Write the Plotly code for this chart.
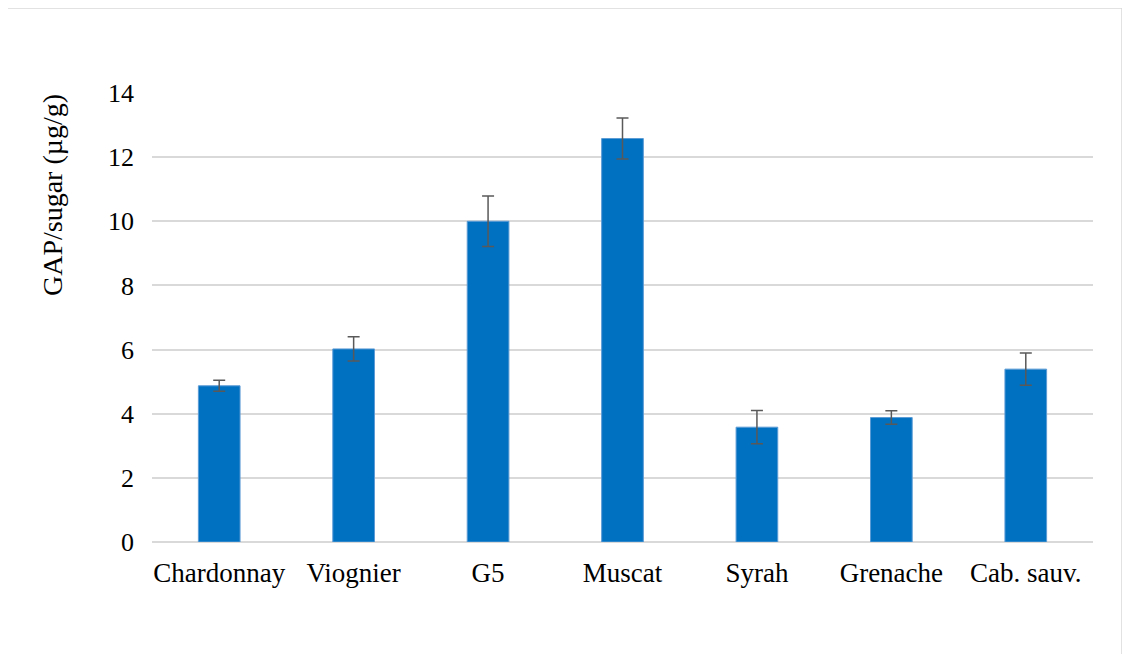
import plotly.graph_objects as go

categories = ["Chardonnay", "Viognier", "G5", "Muscat", "Syrah", "Grenache", "Cab. sauv."]
values = [4.87, 6.02, 10.0, 12.58, 3.58, 3.88, 5.39]
errors = [0.17, 0.38, 0.79, 0.64, 0.52, 0.21, 0.5]
tick_vals = [0, 2, 4, 6, 8, 10, 12, 14]
y_title = "GAP/sugar (µg/g)"

W, H = 1130, 654
OFF = 8  # page body offset
L, R, T, B = 152 - OFF, 37 + OFF, 93 - OFF, 112 + OFF
FONT = "'Liberation Serif', 'Times New Roman', Times, serif"

fig = go.Figure()
fig.add_trace(go.Bar(
    x=categories, y=values,
    marker=dict(color="#0070C0", line=dict(color="#5B9BD5", width=1)),
    error_y=dict(type="data", array=errors, visible=True, color="#595959", thickness=1.5, width=6),
))

pw, ph = W - L - R, H - T - B
x0 = (7 - 152) / pw
x1 = (1122 - 152) / pw
y1 = (542 - 8) / ph
y0 = (542 - 670) / ph
fig.add_shape(type="rect", xref="paper", yref="paper", x0=x0, x1=x1, y0=y0, y1=y1,
              line=dict(color="#D9D9D9", width=1.5), fillcolor="rgba(0,0,0,0)", layer="below")

fig.add_annotation(text=y_title, textangle=-90, xref="paper", yref="paper",
                   x=(52 - 152) / pw, y=(542 - 195) / ph, xanchor="center", yanchor="middle",
                   showarrow=False, font=dict(family=FONT, size=28, color="#000000"))

fig.update_layout(
    width=W, height=H,
    margin=dict(l=L, r=R, t=T, b=B),
    paper_bgcolor="white", plot_bgcolor="white",
    bargap=0.69,
    showlegend=False,
    font=dict(family=FONT, color="#000000", size=26),
)
fig.update_xaxes(showgrid=False, showline=False, ticks="", tickfont=dict(size=27), ticklabelstandoff=12)
fig.update_yaxes(range=[0, 14], tickvals=tick_vals, showgrid=True, gridcolor="#D9D9D9", gridwidth=1.5,
                 zeroline=True, zerolinecolor="#D9D9D9", zerolinewidth=1.5, showline=False,
                 ticks="", tickfont=dict(size=26), ticklabelstandoff=17)

fig.write_html("out.html")
